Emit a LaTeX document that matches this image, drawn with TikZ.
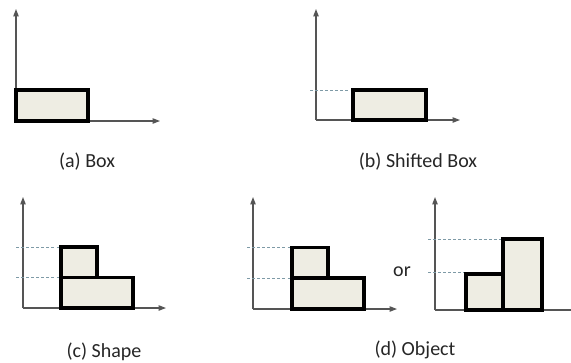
\documentclass[tikz,border=0pt]{standalone}
\usepackage{fontspec}
\setmainfont{Carlito}
\usetikzlibrary{arrows.meta}
\definecolor{boxfill}{HTML}{EEEDE3}
\definecolor{axisgray}{HTML}{555555}
\definecolor{dashblue}{HTML}{7E9AA6}
\tikzset{
  axis/.style={draw=axisgray, line width=0.8pt, -{Triangle[length=5.5pt,width=4pt]}},
  axisnoarrow/.style={draw=axisgray, line width=0.8pt},
  shapebox/.style={draw=black, fill=boxfill, line width=2.3pt},
  guide/.style={draw=dashblue, line width=0.6pt, dash pattern=on 2.2pt off 1.6pt},
  caption/.style={font=\fontsize{15pt}{17pt}\selectfont, text=black!85},
}
\begin{document}
\begin{tikzpicture}[x=0.75pt,y=-0.75pt]
\useasboundingbox (0,0) rectangle (571,362);
% (a)
\coordinate (ao) at (16,121);
\draw[axis] (ao) -- (16,9);
\draw[axis] (ao) -- (160,121);
\draw[shapebox] (16,90) rectangle (88,121);
\node[caption] (capa) at (87,162) {(a) Box};
% (b)
\coordinate (bo) at (316,120);
\draw[axis] (bo) -- (316,9);
\draw[axis] (bo) -- (460,120);
\draw[guide] (310,90) -- (353,90);
\draw[shapebox] (353,90) rectangle (426,120);
\node[caption] (capb) at (418,162) {(b) Shifted Box};
% (c)
\coordinate (co) at (23,308);
\draw[axis] (co) -- (23,197);
\draw[axis] (co) -- (166,308);
\draw[guide] (16,247) -- (61,247);
\draw[guide] (16,277.5) -- (61,277.5);
\draw[shapebox] (61,277.5) rectangle (133,308);
\draw[shapebox] (61,247) rectangle (97,277.5);
\node[caption] (capc) at (104,352) {(c) Shape};
% (d) left
\coordinate (do) at (253,309);
\draw[axis] (do) -- (253,197);
\draw[axis] (do) -- (397,309);
\draw[guide] (247,247.5) -- (292,247.5);
\draw[guide] (247,278) -- (292,278);
\draw[shapebox] (292,278) rectangle (364,309);
\draw[shapebox] (292,247.5) rectangle (328,278);
\node[caption] (or) at (402,272) {or};
% (d) right
\coordinate (eo) at (435,310);
\draw[axis] (eo) -- (435,197);
\draw[axisnoarrow] (eo) -- (571,310);
\draw[guide] (428,239) -- (503,239);
\draw[guide] (428,272) -- (470,272);
\draw[shapebox] (466,274) rectangle (503,310);
\draw[shapebox] (503,239) rectangle (542,310);
\node[caption] (capd) at (415,350) {(d) Object};
\end{tikzpicture}
\end{document}
